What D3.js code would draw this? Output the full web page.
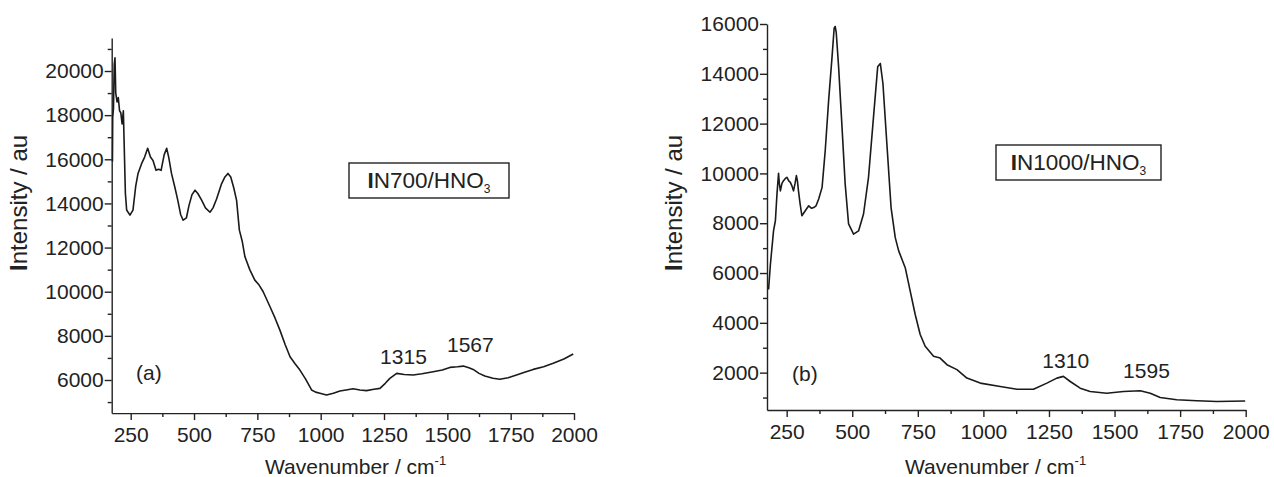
<!DOCTYPE html>
<html>
<head>
<meta charset="utf-8">
<script src="https://cdn.jsdelivr.net/npm/d3@7"></script>
<style>
  html, body { margin: 0; padding: 0; background: #fff; }
  svg { display: block; font-family: "Liberation Sans", Arial, Helvetica, sans-serif; }
  .axis path, .axis line { stroke: #222; stroke-width: 1.4px; }
  .axis text { fill: #222; font-size: 21px; font-family: "Liberation Sans", Arial, sans-serif; }
</style>
</head>
<body>
<svg id="chart" width="1274" height="477"></svg>
<script>
// ---------------- data ----------------
const xTicks = [250, 500, 750, 1000, 1250, 1500, 1750, 2000];
const xMinorTicks = [375, 625, 875, 1125, 1375, 1625, 1875];

const yTicksA = [6000, 8000, 10000, 12000, 14000, 16000, 18000, 20000];
const yMinorTicksA = [5000, 7000, 9000, 11000, 13000, 15000, 17000, 19000, 21000];
const yTicksB = [2000, 4000, 6000, 8000, 10000, 12000, 14000, 16000];
const yMinorTicksB = [1000, 3000, 5000, 7000, 9000, 11000, 13000, 15000];

// panel (a) IN700/HNO3 : [wavenumber, intensity]
const wavenumberA = [178,179,182,185,188,191,196,201,206,211,216,221,224,229,234,247,259,270,279,293,305,317,328,338,350,360,370,382,392,400,411,425,436,447,457,470,480,492,504,515,530,545,563,575,589,609,622,634,645,657,668,679,690,701,720,740,757,773,800,820,839,860,879,898,918,940,964,980,997,1023,1050,1076,1100,1128,1155,1181,1210,1234,1255,1273,1300,1330,1365,1400,1444,1480,1510,1540,1563,1585,1602,1625,1648,1680,1707,1740,1773,1805,1839,1880,1918,1960,1997];
const intensityA = [15900,17900,18300,20300,20600,19000,18600,18800,18200,18100,17600,18200,16800,14460,13700,13470,13700,14800,15360,15800,16100,16500,16100,15950,15500,15550,15500,16200,16500,16100,15360,14700,14140,13500,13240,13350,13900,14400,14600,14450,14150,13800,13600,13800,14200,14900,15200,15360,15200,14700,14140,12790,12300,11580,11000,10525,10300,10000,9320,8800,8260,7600,7050,6750,6450,6050,5550,5450,5400,5320,5400,5500,5550,5600,5550,5520,5580,5620,5850,6075,6300,6250,6225,6280,6375,6450,6570,6600,6630,6550,6480,6300,6180,6080,6030,6100,6225,6350,6480,6600,6755,6950,7180];

// panel (b) IN1000/HNO3
const wavenumberB = [181,188,200,207,213,219,222,226,232,238,245,251,258,264,270,276,282,287,291,295,301,308,321,334,345,353,362,372,385,397,410,423,431,435,439,448,461,473,486,505,524,543,562,581,597,607,617,632,648,664,677,702,721,740,759,778,810,835,861,899,937,988,1064,1128,1191,1242,1280,1305,1331,1369,1407,1470,1534,1598,1636,1674,1737,1814,1890,1998];
const intensityB = [5340,6350,7700,8100,9170,10000,9600,9300,9600,9710,9800,9845,9700,9640,9500,9300,9600,9910,9700,9300,8800,8300,8500,8700,8600,8630,8700,8970,9440,10920,12935,14680,15830,15900,15650,14280,11860,9580,7970,7560,7690,8370,9845,12260,14280,14415,13610,11190,8630,7420,6890,6215,5275,4335,3530,3060,2655,2585,2320,2120,1780,1580,1445,1335,1335,1580,1780,1850,1645,1375,1245,1175,1245,1270,1175,1000,910,870,840,860];

const annotA = [{t: "1315", w: 1315, v: 6300}, {t: "1567", w: 1567, v: 6630}];
const annotB = [{t: "1310", w: 1310, v: 1850}, {t: "1595", w: 1595, v: 1270}];

// ---------------- drawing ----------------
const svg = d3.select("#chart");
svg.append("rect").attr("width", 1274).attr("height", 477).attr("fill", "#fff");

function panel(cfg) {
  const g = svg.append("g");
  const x = d3.scaleLinear().domain(cfg.xDomain).range([cfg.left, cfg.right]);
  const y = d3.scaleLinear().domain(cfg.yDomain).range([cfg.bottom, cfg.top]);

  // minor ticks
  g.append("g").attr("class", "axis").attr("transform", `translate(0,${cfg.bottom})`)
    .call(d3.axisBottom(x).tickValues(xMinorTicks).tickSize(4).tickFormat(""))
    .call(s => s.select(".domain").remove());
  g.append("g").attr("class", "axis").attr("transform", `translate(${cfg.left},0)`)
    .call(d3.axisLeft(y).tickValues(cfg.yMinor).tickSize(4).tickFormat(""))
    .call(s => s.select(".domain").remove());

  // major axes
  g.append("g").attr("class", "axis").attr("transform", `translate(0,${cfg.bottom})`)
    .call(d3.axisBottom(x).tickValues(xTicks).tickSizeInner(7).tickSizeOuter(0).tickPadding(7).tickFormat(d3.format("d")));
  g.append("g").attr("class", "axis").attr("transform", `translate(${cfg.left},0)`)
    .call(d3.axisLeft(y).tickValues(cfg.yTicks).tickSizeInner(7).tickSizeOuter(0).tickPadding(1).tickFormat(d3.format("d")));

  // spectrum line
  const data = cfg.wn.map((w, i) => [w, cfg.iv[i]]);
  g.append("path").datum(data)
    .attr("fill", "none").attr("stroke", "#1a1a1a").attr("stroke-width", 1.6)
    .attr("stroke-linejoin", "round")
    .attr("d", d3.line().x(d => x(d[0])).y(d => y(d[1])));

  // axis titles
  const xt = g.append("text").attr("x", cfg.xTitleX).attr("y", 474)
    .attr("font-size", 21).attr("fill", "#222");
  xt.append("tspan").text("Wavenumber / cm");
  xt.append("tspan").attr("font-size", 13).attr("dy", -9).text("-1");

  const yt = g.append("text")
    .attr("transform", `translate(${cfg.yTitleX},${cfg.yTitleY}) rotate(-90)`)
    .attr("font-size", 24).attr("fill", "#222");
  yt.append("tspan").attr("font-weight", "bold").text("I");
  yt.append("tspan").text("ntensity / au");

  // legend box
  g.append("rect").attr("x", cfg.box[0]).attr("y", cfg.box[1])
    .attr("width", cfg.box[2]).attr("height", cfg.box[3])
    .attr("fill", "#fff").attr("stroke", "#222").attr("stroke-width", 1.4);
  const lt = g.append("text").attr("x", cfg.box[0] + cfg.box[2] / 2).attr("y", cfg.box[1] + 25)
    .attr("text-anchor", "middle").attr("font-size", 22.5).attr("fill", "#222");
  lt.append("tspan").attr("font-weight", "bold").text("I");
  lt.append("tspan").text(cfg.label);
  lt.append("tspan").attr("font-size", 12).attr("dy", 5).text("3");

  // panel letter
  g.append("text").attr("x", cfg.letterPos[0]).attr("y", cfg.letterPos[1])
    .attr("font-size", 21).attr("fill", "#222").text(cfg.letter);

  // peak annotations
  cfg.annot.forEach((a, i) => {
    g.append("text").attr("x", x(a.w) + cfg.annotDx[i]).attr("y", y(a.v) - cfg.annotDy[i])
      .attr("text-anchor", "middle").attr("font-size", 21).attr("fill", "#222").text(a.t);
  });
}

panel({
  xDomain: [175, 2000], yDomain: [4500, 21500],
  left: 111.7, right: 574, top: 37.9, bottom: 413.1,
  yTicks: yTicksA, yMinor: yMinorTicksA,
  wn: wavenumberA, iv: intensityA,
  xTitleX: 265, yTitleX: 27, yTitleY: 271,
  box: [349, 163, 160, 35], label: "N700/HNO", letter: "(a)", letterPos: [136, 380],
  annot: annotA, annotDx: [3, 6], annotDy: [9, 14]
});

panel({
  xDomain: [175, 2000], yDomain: [500, 16000],
  left: 767, right: 1245.7, top: 24, bottom: 410,
  yTicks: yTicksB, yMinor: yMinorTicksB,
  wn: wavenumberB, iv: intensityB,
  xTitleX: 905, yTitleX: 682, yTitleY: 271,
  box: [996, 145, 165, 35], label: "N1000/HNO", letter: "(b)", letterPos: [792, 381],
  annot: annotB, annotDx: [1, 7], annotDy: [8, 13]
});
</script>
</body>
</html>
